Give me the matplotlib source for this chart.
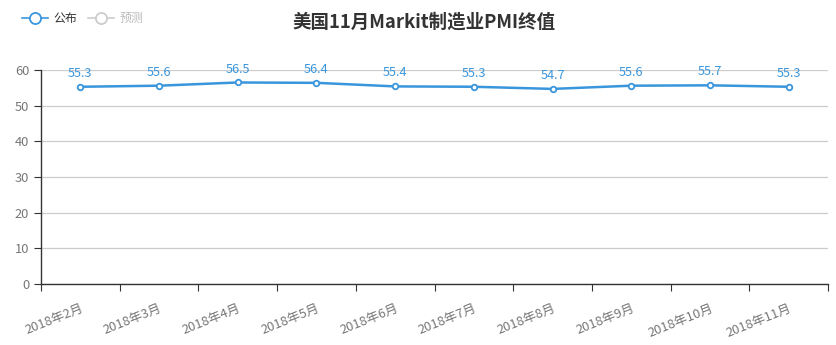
import numpy as np
import matplotlib
matplotlib.use("Agg")
import matplotlib.pyplot as plt
from matplotlib.lines import Line2D

plt.rcParams['font.family'] = ['Noto Sans CJK SC', 'DejaVu Sans']

months = ['2018年2月', '2018年3月', '2018年4月', '2018年5月', '2018年6月',
          '2018年7月', '2018年8月', '2018年9月', '2018年10月', '2018年11月']
published = [55.3, 55.6, 56.5, 56.4, 55.4, 55.3, 54.7, 55.6, 55.7, 55.3]
yticks = [0, 10, 20, 30, 40, 50, 60]

blue = '#3a96dc'
W, H = 836, 345
fig = plt.figure(figsize=(W / 100, H / 100), dpi=100)
ax = fig.add_axes([41 / W, 1 - 284 / H, (828 - 41) / W, (284 - 70) / H])

x = np.arange(len(months))
ax.plot(x, published, color=blue, lw=1.8, marker='o', ms=4,
        mfc='white', mec=blue, mew=1.3, zorder=3)
for xi, v in zip(x, published):
    ax.annotate(f'{v}', (xi, v), xytext=(0, 5), textcoords='offset points',
                ha='center', va='bottom', color=blue, fontsize=9.2)

ax.set_xlim(-0.5, len(months) - 0.5)
ax.set_ylim(0, 60)
ax.set_yticks(yticks)
ax.set_xticks(np.arange(len(months) + 1) - 0.5)
ax.set_xticklabels([])
ax.set_xticks(x, minor=True)
ax.set_xticklabels(months, minor=True, rotation=22, ha='right',
                   rotation_mode='anchor', color='#777777', fontsize=9.3)
ax.tick_params(axis='x', which='minor', length=0, pad=13)
ax.tick_params(axis='x', which='major', length=5, color='#333333')
ax.tick_params(axis='y', length=5, color='#333333', labelcolor='#777777',
               labelsize=9.3)
ax.grid(axis='y', color='#cccccc', lw=0.9)
ax.set_axisbelow(True)
for s in ['top', 'right']:
    ax.spines[s].set_visible(False)
for s in ['left', 'bottom']:
    ax.spines[s].set_color('#333333')
    ax.spines[s].set_linewidth(1)

fig.text(424 / W, 1 - 22 / H, '美国11月Markit制造业PMI终值', ha='center',
         va='center', fontsize=13.3, fontweight='bold', color='#333333')

handles = [Line2D([], [], color=blue, marker='o', ms=8, mfc='white', mec=blue,
                  mew=1.3, lw=1.2),
           Line2D([], [], color='#cccccc', marker='o', ms=8, mfc='white',
                  mec='#cccccc', mew=1.3, lw=1.2)]
leg = fig.legend(handles, ['公布', '预测'], loc='upper left',
                 bbox_to_anchor=(22 / W, 1 - 12 / H), ncol=2, frameon=False,
                 fontsize=8.6, handlelength=2.2, columnspacing=0.9,
                 handletextpad=0.45, borderpad=0, borderaxespad=0)
leg.get_texts()[0].set_color('#333333')
leg.get_texts()[1].set_color('#bbbbbb')

fig.savefig('out.png', dpi=100)
